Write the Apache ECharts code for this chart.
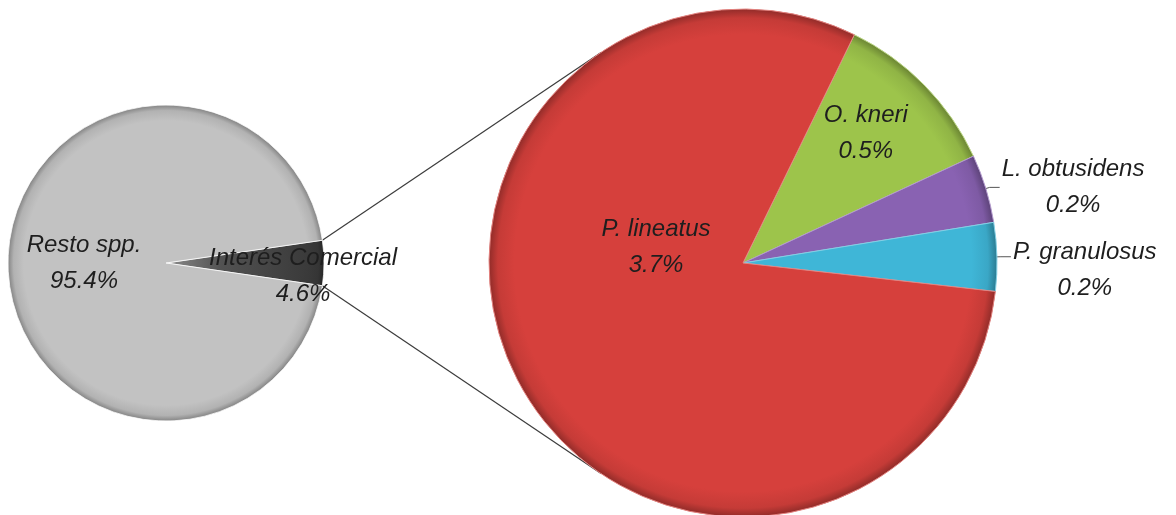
<!DOCTYPE html>
<html>
<head>
<meta charset="utf-8">
<script src="https://cdn.jsdelivr.net/npm/echarts@6/dist/echarts.min.js"></script>
<style>
  html, body { margin: 0; padding: 0; background: #ffffff; }
  #chart { width: 1176px; height: 515px; }
</style>
</head>
<body>
<div id="chart"></div>
<script>
// Main pie: total catch split into commercial-interest species and the rest
const mainCategories = ['Interés Comercial', 'Resto spp.'];
const mainValues = [4.6, 95.4];

// Secondary pie: breakdown of the commercial-interest share
const detailCategories = ['O. kneri', 'L. obtusidens', 'P. granulosus', 'P. lineatus'];
const detailValues = [0.5, 0.2, 0.2, 3.7];

// Layout (pixels)
const MAIN = { cx: 166, cy: 263, r: 158 };
const DETAIL = { cx: 743, cy: 263, r: 254, startAngle: 64 };
const FONT = '"Liberation Sans", Arial, sans-serif';

const mainColors = ['#3a3a3a', '#c2c2c2'];
const detailColors = ['#9dc44b', '#8962b2', '#3fb6d7', '#d6403c'];

function shade(hex, f) {
  const n = parseInt(hex.slice(1), 16);
  let r = (n >> 16) & 255, g = (n >> 8) & 255, b = n & 255;
  if (f < 0) { r *= 1 + f; g *= 1 + f; b *= 1 + f; }
  else { r += (255 - r) * f; g += (255 - g) * f; b += (255 - b) * f; }
  return 'rgb(' + Math.round(r) + ',' + Math.round(g) + ',' + Math.round(b) + ')';
}

// Bevel-like fill: flat body with a darker rim at the outer edge
function bevel(p, hex, inner) {
  const stops = [];
  if (inner) {
    stops.push({ offset: 0, color: inner }, { offset: 0.35, color: shade(hex, 0.12) });
  } else {
    stops.push({ offset: 0, color: hex });
  }
  stops.push(
    { offset: 0.9, color: hex },
    { offset: 0.965, color: shade(hex, -0.08) },
    { offset: 1, color: shade(hex, -0.32) }
  );
  return new echarts.graphic.RadialGradient(p.cx, p.cy, p.r, stops, true);
}

const fmt = p => '{t|' + p.name + '}\n{t|' + p.value.toFixed(1) + '%}';
const textStyle = {
  fontFamily: FONT, fontStyle: 'italic', fontSize: 24, color: '#1e1e1e',
  lineHeight: 36, align: 'center'
};

// Offsets nudge the inside labels toward where the slices leave room
const mainLabelOffsets = [[55, 13], [0, 0]];
const detailLabelOffsets = [[30, -39], null, null, [27, -78]];

const mainData = mainCategories.map((name, i) => ({
  name, value: mainValues[i],
  itemStyle: { color: i === 0 ? bevel(MAIN, mainColors[i], '#8c8c8c') : bevel(MAIN, mainColors[i]) },
  label: { offset: mainLabelOffsets[i] }
}));

const detailData = detailCategories.map((name, i) => {
  const item = {
    name, value: detailValues[i],
    itemStyle: { color: bevel(DETAIL, detailColors[i]), borderColor: shade(detailColors[i], 0.35) }
  };
  if (detailLabelOffsets[i]) {
    item.label = { position: 'inside', offset: detailLabelOffsets[i] };
    item.labelLine = { show: false };
  } else {
    item.label = { position: 'outside' };
  }
  return item;
});

const mainTotal = mainValues.reduce((a, b) => a + b, 0);
const mainStart = 360 * mainValues[0] / mainTotal / 2;

// Connector lines: from the edges of the highlighted slice to tangents of the second pie
function edgePoint(p, deg) {
  const a = deg * Math.PI / 180;
  return [p.cx + p.r * Math.cos(a), p.cy - p.r * Math.sin(a)];
}
function tangents(pt, c) {
  const vx = pt[0] - c.cx, vy = pt[1] - c.cy;
  const d = Math.hypot(vx, vy);
  const th = Math.atan2(vy, vx), al = Math.acos(c.r / d);
  return [th + al, th - al].map(a => [c.cx + c.r * Math.cos(a), c.cy + c.r * Math.sin(a)]);
}
const pTop = edgePoint(MAIN, mainStart);
const pBot = edgePoint(MAIN, -mainStart);
const tTop = tangents(pTop, DETAIL).sort((a, b) => a[1] - b[1])[0];
const tBot = tangents(pBot, DETAIL).sort((a, b) => b[1] - a[1])[0];

const chart = echarts.init(document.getElementById('chart'), null, { renderer: 'canvas' });
chart.setOption({
  backgroundColor: '#ffffff',
  animation: false,
  graphic: [
    { type: 'line', z: 0, shape: { x1: pTop[0], y1: pTop[1], x2: tTop[0], y2: tTop[1] },
      style: { stroke: '#3c3c3c', lineWidth: 1.2 } },
    { type: 'line', z: 0, shape: { x1: pBot[0], y1: pBot[1], x2: tBot[0], y2: tBot[1] },
      style: { stroke: '#3c3c3c', lineWidth: 1.2 } }
  ],
  series: [
    {
      type: 'pie',
      center: [MAIN.cx, MAIN.cy],
      radius: [0, MAIN.r],
      startAngle: mainStart,
      clockwise: true,
      avoidLabelOverlap: false,
      itemStyle: { borderColor: 'rgba(255,255,255,0.75)', borderWidth: 1 },
      label: { show: true, position: 'inside', formatter: fmt, rich: { t: textStyle } },
      labelLine: { show: false },
      emphasis: { disabled: true },
      data: mainData
    },
    {
      type: 'pie',
      center: [DETAIL.cx, DETAIL.cy],
      radius: [0, DETAIL.r],
      startAngle: DETAIL.startAngle,
      clockwise: true,
      avoidLabelOverlap: false,
      itemStyle: { borderWidth: 1 },
      label: { show: true, formatter: fmt, rich: { t: textStyle }, distanceToLabelLine: 2 },
      labelLine: { show: true, length: 4, length2: 10, lineStyle: { color: '#555', width: 1 } },
      labelLayout: p => (p.dataIndex === 2 ? { dy: 14 } : {}),
      emphasis: { disabled: true },
      data: detailData
    }
  ]
});
</script>
</body>
</html>
